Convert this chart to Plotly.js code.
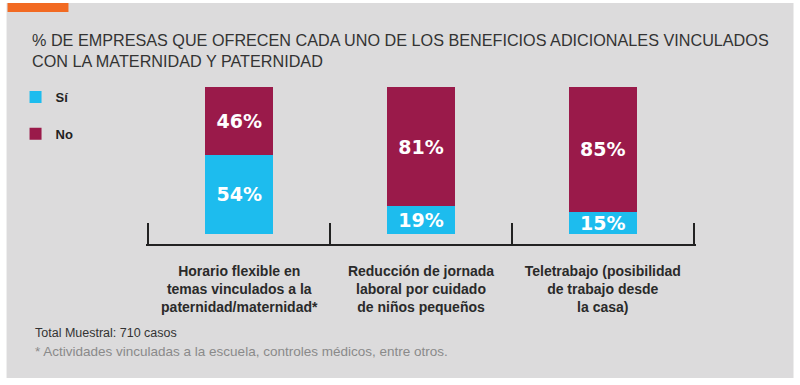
<!DOCTYPE html>
<html>
<head>
<meta charset="utf-8">
<script src="https://cdn.plot.ly/plotly-3.0.1.min.js"></script>
<style>
  html, body { margin: 0; padding: 0; background: #ffffff; }
  #chart { width: 800px; height: 385px; }
</style>
</head>
<body>
<div id="chart"></div>
<script>
// ---- Data ----
const categories = [
  "Horario flexible en<br>temas vinculados a la<br>paternidad/maternidad*",
  "Reducción de jornada<br>laboral por cuidado<br>de niños pequeños",
  "Teletrabajo (posibilidad<br>de trabajo desde<br>la casa)"
];
const seriesNames = ["Sí", "No"];
const siValues = [54, 19, 15];
const noValues = [46, 81, 85];

const titleText = "% DE EMPRESAS QUE OFRECEN CADA UNO DE LOS BENEFICIOS ADICIONALES VINCULADOS<br>CON LA MATERNIDAD Y PATERNIDAD";
const noteTotal = "Total Muestral: 710 casos";
const noteFoot = "* Actividades vinculadas a la escuela, controles médicos, entre otros.";

// ---- Styles ----
const colSi = "#1dbcee";
const colNo = "#9a1a4a";
const panelColor = "#dcdbdc";
const orange = "#f26a22";

// axis range slightly padded so the end separator ticks are kept
const pad = 0.013;
const xRange = [-0.5 - pad, categories.length - 0.5 + pad];
const unitPx = 182;
// pixel helpers for layout (plot area x from L to R, y from T to B)
const L = 148 - pad * unitPx, R = 694 + pad * unitPx, T = 87, B = 244;
const px = v => (v - L) / (R - L);
const py = v => (B - v) / (B - T);

// category boundaries for the separator ticks
const boundaries = [];
for (let i = 0; i <= categories.length; i++) boundaries.push(i - 0.5);

const barText = {family: "DejaVu Sans, Arial, sans-serif", size: 19, color: "#ffffff", weight: "bold"};

const traces = [
  {
    type: "bar", name: seriesNames[0], x: categories, y: siValues,
    marker: {color: colSi}, width: 0.375,
    texttemplate: "%{y}%", textposition: "inside", insidetextanchor: "middle",
    textangle: 0, constraintext: "none", textfont: barText,
    legendgroup: "a", hoverinfo: "skip"
  },
  {
    type: "bar", name: seriesNames[1], x: categories, y: noValues,
    marker: {color: colNo}, width: 0.375,
    texttemplate: "%{y}%", textposition: "inside", insidetextanchor: "middle",
    textangle: 0, constraintext: "none", textfont: barText,
    legendgroup: "b", hoverinfo: "skip"
  },
  // invisible helper trace to activate the boundary axis
  {type: "scatter", x: [], y: [], xaxis: "x2", showlegend: false, hoverinfo: "skip"}
];

const layout = {
  width: 800, height: 385,
  margin: {l: L, r: 800 - R, t: T, b: 385 - B, pad: 0},
  paper_bgcolor: "#ffffff",
  plot_bgcolor: "rgba(0,0,0,0)",
  barmode: "stack",
  showlegend: true,
  title: {
    text: titleText,
    x: 32 / 800, xanchor: "left", xref: "container",
    y: 1 - 46 / 385, yanchor: "top", yref: "container",
    font: {family: "Arial, Liberation Sans, sans-serif", size: 16.2, color: "#333333"}
  },
  legend: {
    x: px(15), xanchor: "left", y: py(82), yanchor: "top",
    traceorder: "grouped", tracegroupgap: 17,
    font: {family: "Arial, Liberation Sans, sans-serif", size: 13, color: "#222222", weight: "bold"},
    bgcolor: "rgba(0,0,0,0)"
  },
  xaxis: {
    type: "category", range: xRange,
    ticks: "", showline: false, showgrid: false, zeroline: false,
    ticklabelstandoff: 17,
    tickfont: {family: "Arial, Liberation Sans, sans-serif", size: 14, color: "#2a2a2a", weight: "bold"},
    fixedrange: true
  },
  xaxis2: {
    overlaying: "x", anchor: "y", side: "bottom", type: "linear", range: xRange,
    tickmode: "array", tickvals: boundaries, showticklabels: false,
    ticks: "inside", ticklen: 21, tickwidth: 2, tickcolor: "#222222",
    showline: true, linecolor: "#222222", linewidth: 2, showgrid: false, zeroline: false,
    fixedrange: true
  },
  yaxis: {
    range: [-6.8, 100], visible: false, fixedrange: true
  },
  shapes: [
    {type: "rect", xref: "paper", yref: "paper", x0: px(6), x1: px(794), y0: py(378), y1: py(3),
     fillcolor: panelColor, line: {width: 0}, layer: "below"},
    {type: "rect", xref: "paper", yref: "paper", x0: px(7), x1: px(68), y0: py(12), y1: py(3),
     fillcolor: orange, line: {width: 0}, layer: "below"}
  ],
  annotations: [
    {text: noteTotal, xref: "paper", yref: "paper", x: px(32), y: py(333), xanchor: "left", yanchor: "middle",
     showarrow: false, font: {family: "Arial, Liberation Sans, sans-serif", size: 12.5, color: "#333333"}},
    {text: noteFoot, xref: "paper", yref: "paper", x: px(32), y: py(351), xanchor: "left", yanchor: "middle",
     showarrow: false, font: {family: "Arial, Liberation Sans, sans-serif", size: 13.5, color: "#8a8a8a"}}
  ]
};

Plotly.newPlot("chart", traces, layout, {displayModeBar: false, staticPlot: true});
</script>
</body>
</html>
